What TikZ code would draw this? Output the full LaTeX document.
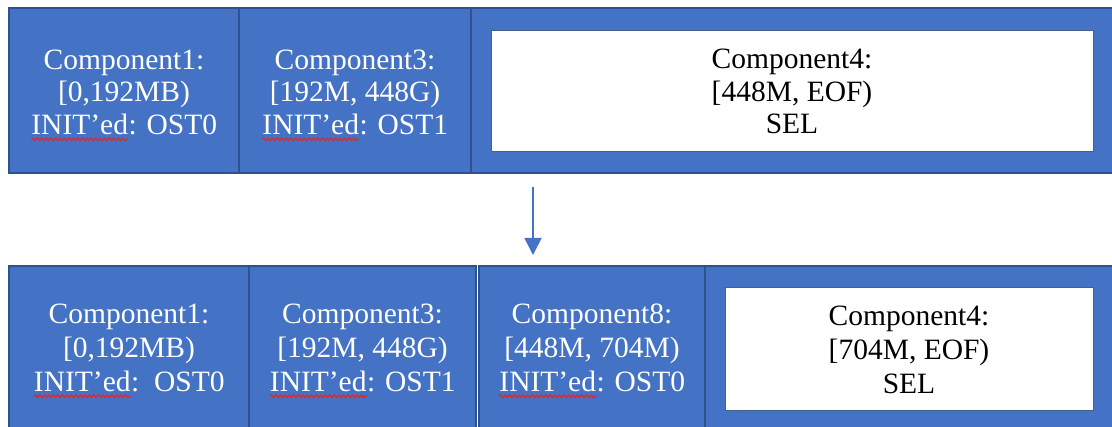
\documentclass[tikz,border=0pt]{standalone}
\usepackage{fontspec}
\setmainfont{Liberation Serif}
\usetikzlibrary{arrows.meta,decorations.pathmorphing}
\definecolor{cellblue}{HTML}{4472C4}
\definecolor{cellborder}{HTML}{2F528F}
\definecolor{squigred}{HTML}{E02828}
\newcommand\squig[1]{\tikz[baseline=(sw.base)]{\node[draw=none,fill=none,minimum width=0pt,minimum height=0pt,inner sep=0pt,outer sep=0pt] (sw) {#1};\draw[squigred,line width=1.2pt,fill=none,decorate,decoration={snake,amplitude=1.4pt,segment length=4.5pt}] ([yshift=-5pt]sw.base west) -- ([yshift=-5pt]sw.base east);}}
\tikzset{
  cell/.style={draw=cellborder, line width=1.4pt, fill=cellblue, inner sep=0pt},
  whitebox/.style={draw=cellborder!70!gray, line width=1pt, fill=white, inner sep=0pt},
  celltext/.style={text=white, inner sep=0pt, align=center, font=\fontsize{29.5}{32.5}\selectfont},
  boxtext/.style={celltext, text=black},
  lowtext/.style={celltext, font=\fontsize{29.5}{34}\selectfont},
  lowboxtext/.style={lowtext, text=black},
  flowarrow/.style={draw=cellblue, line width=1.6pt, -{Triangle[length=17pt,width=17pt]}}
}
\begin{document}
\begin{tikzpicture}[x=1pt,y=-1pt]
\useasboundingbox (0,0) rectangle (1112,427);
% top row
\node[cell, minimum width=230pt, minimum height=165pt] (a1) at (124,90.5) {};
\node[cell, minimum width=232pt, minimum height=165pt] (a2) at (355,90.5) {};
\node[cell, minimum width=648pt, minimum height=165pt] (a3) at (795,90.5) {};
\node[whitebox, minimum width=602pt, minimum height=121pt] (w1) at (792,91.5) {};
\node[celltext, yshift=-5pt] (a1t) at (a1.center) {Component1:\\{[}0,192MB)\\\squig{INIT’ed}: OST0};
\node[celltext, yshift=-5pt] (a2t) at (a2.center) {Component3:\\{[}192M, 448G)\\\squig{INIT’ed}: OST1};
\node[boxtext] (w1t) at (w1.center) {Component4:\\{[}448M, EOF)\\SEL};
% arrow
\coordinate (as) at (533,187);
\coordinate (ae) at (533,255);
\draw[flowarrow] (as) -- (ae);
% bottom row
\node[cell, minimum width=240pt, minimum height=166pt] (b1) at (129,349) {};
\node[cell, minimum width=227pt, minimum height=166pt] (b2) at (362.5,349) {};
\node[cell, minimum width=226pt, minimum height=166pt] (b3) at (592,349) {};
\node[cell, minimum width=412pt, minimum height=166pt] (b4) at (911,349) {};
\node[whitebox, minimum width=368pt, minimum height=123pt] (w2) at (909,349.5) {};
\node[lowtext, yshift=-2pt] (b1t) at (b1.center) {Component1:\\{[}0,192MB)\\\squig{INIT’ed}:\ \ OST0};
\node[lowtext, yshift=-2pt] (b2t) at (b2.center) {Component3:\\{[}192M, 448G)\\\squig{INIT’ed}: OST1};
\node[lowtext, yshift=-2pt] (b3t) at (b3.center) {Component8:\\{[}448M, 704M)\\\squig{INIT’ed}: OST0};
\node[lowboxtext] (w2t) at (w2.center) {Component4:\\{[}704M, EOF)\\SEL};
\end{tikzpicture}
\end{document}
